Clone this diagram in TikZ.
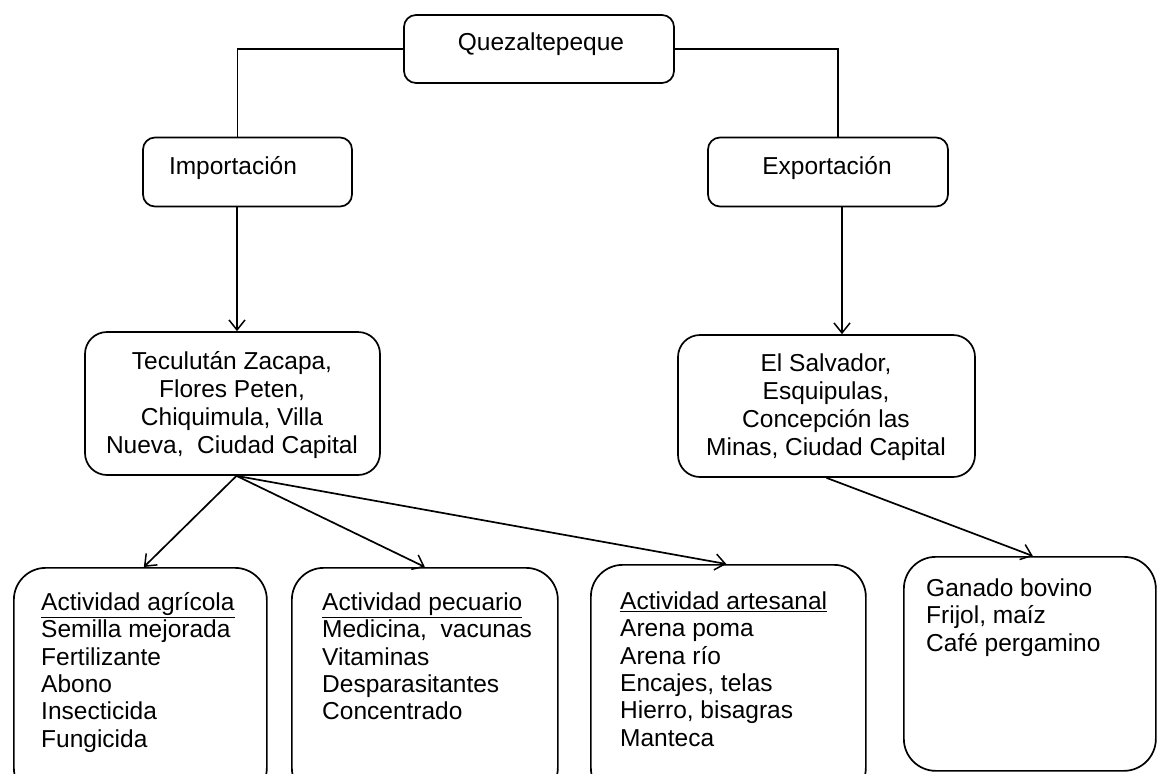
\documentclass[tikz,border=0pt]{standalone}
\usepackage{fontspec}
\setmainfont{Liberation Sans}
\usetikzlibrary{arrows.meta}
\begin{document}
\begin{tikzpicture}[x=1pt,y=-1pt,
  boxs/.style={draw, line width=1.7pt, rounded corners=12pt, inner sep=0pt},
  boxm/.style={draw, line width=1.7pt, rounded corners=22pt, inner sep=0pt},
  boxl/.style={draw, line width=1.7pt, rounded corners=32pt, inner sep=0pt},
  txt/.style={font=\fontsize{24.5}{27.5}\selectfont, inner sep=0pt, anchor=base},
  lst/.style={font=\fontsize{24.5}{27.3}\selectfont, inner sep=0pt, align=left, anchor=base west},
  conn/.style={line width=1.7pt},
  arr/.style={line width=1.7pt, -{Straight Barb[length=10pt,width=16pt,line width=1.5pt]}}]
\useasboundingbox (0,0) rectangle (1157,774);
% boxes
\node[boxs, minimum width=270pt, minimum height=68pt] (q) at (539,49) {};
\node[boxs, minimum width=209pt, minimum height=69pt] (imp) at (247.5,172) {};
\node[boxs, minimum width=240pt, minimum height=69pt] (exp) at (828,172) {};
\node[boxm, minimum width=295pt, minimum height=143pt] (tec) at (232.5,403.5) {};
\node[boxm, minimum width=297pt, minimum height=142pt] (els) at (826.5,406) {};
\node[boxl, minimum width=253pt, minimum height=232pt, anchor=north west] (b1) at (13,567) {};
\node[boxl, minimum width=266pt, minimum height=232pt, anchor=north west] (b2) at (291,567) {};
\node[boxl, minimum width=275pt, minimum height=235pt, anchor=north west] (b3) at (590,564) {};
\node[boxl, minimum width=252pt, minimum height=214pt, anchor=north west] (b4) at (903,556) {};
% texts (multi-line nodes: base anchor is the last line's baseline)
\node[txt] (qt) at (541,50) {Quezaltepeque};
\node[txt] (impt) at (233,174) {Importación};
\node[txt] (expt) at (827,174) {Exportación};
\node[txt, align=center, font=\fontsize{24.5}{27.7}\selectfont] (tect) at (232,453) {Teculután Zacapa,\\Flores Peten,\\Chiquimula, Villa\\Nueva,\ \ Ciudad Capital};
\node[txt, align=center, font=\fontsize{24.5}{27.7}\selectfont] (elst) at (826,455) {El Salvador,\\Esquipulas,\\Concepción las\\Minas, Ciudad Capital};
\node[lst] (b1t) at (41,747) {\underline{Actividad agrícola}\\Semilla mejorada\\Fertilizante\\Abono\\Insecticida\\Fungicida};
\node[lst] (b2t) at (322,719.7) {\underline{Actividad pecuario}\\Medicina,\ \ vacunas\\Vitaminas\\Desparasitantes\\Concentrado};
\node[lst] (b3t) at (620,746) {\underline{Actividad artesanal}\\Arena poma\\Arena río\\Encajes, telas\\Hierro, bisagras\\Manteca};
\node[lst] (b4t) at (926,651) {Ganado bovino\\Frijol, maíz\\Café pergamino};
% connectors
\draw[conn] (q.west) -| ([xshift=-10pt]imp.north);
\draw[conn] (q.east) -| ([xshift=10pt]exp.north);
\draw[arr] ([xshift=4.5pt]tec.north |- imp.south) -- ([xshift=4.5pt]tec.north);
\draw[arr] ([xshift=15.5pt]els.north |- exp.south) -- ([xshift=15.5pt]els.north);
\draw[arr] ([xshift=4pt]tec.south) -- ([xshift=3.5pt]b1.north);
\draw[arr] ([xshift=4pt]tec.south) -- (b2.north);
\draw[arr] ([xshift=4pt]tec.south) -- ([xshift=-2pt]b3.north);
\draw[arr] (els.south) -- ([xshift=3pt]b4.north);
\end{tikzpicture}
\end{document}
